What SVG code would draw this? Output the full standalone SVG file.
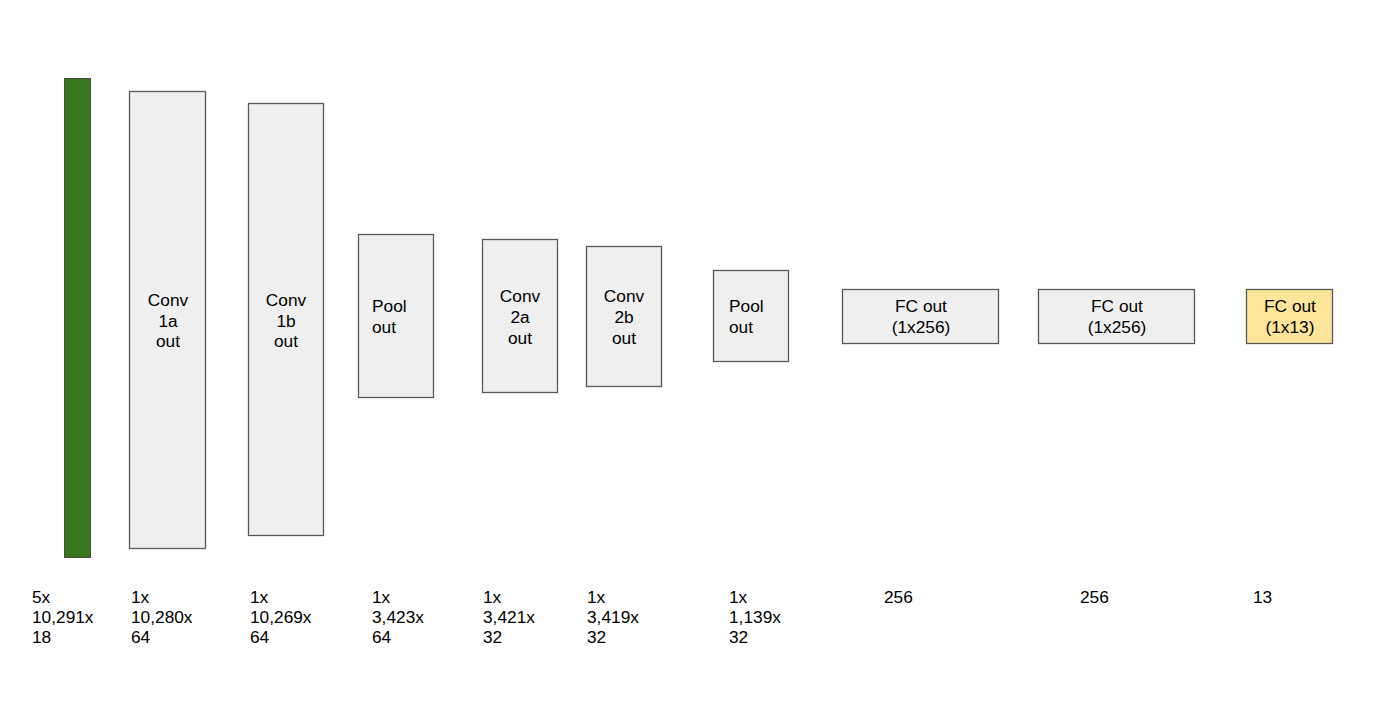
<svg xmlns="http://www.w3.org/2000/svg" width="1400" height="711" viewBox="0 0 1400 711">
<style>
.box{fill:#efefef;stroke:#595959;stroke-width:1.3}
.t{font-family:"Liberation Sans",Arial,sans-serif;font-size:17.3px;fill:#000}
.c{text-anchor:middle}
</style>
<rect width="1400" height="711" fill="#fff"/>
<g id="input"><rect x="64.5" y="78.5" width="26" height="479" fill="#38761d" stroke="#4a4a4a" stroke-width="1"/></g>
<g id="conv1a"><rect class="box" x="129.5" y="91.5" width="76" height="457"/>
<text class="t c" x="168" y="306">Conv</text><text class="t c" x="168" y="327">1a</text><text class="t c" x="168" y="347">out</text></g>
<g id="conv1b"><rect class="box" x="248.5" y="103.5" width="75" height="432"/>
<text class="t c" x="286" y="306">Conv</text><text class="t c" x="286" y="327">1b</text><text class="t c" x="286" y="347">out</text></g>
<g id="pool1"><rect class="box" x="358.5" y="234.5" width="75" height="163"/>
<text class="t" x="372" y="312">Pool</text><text class="t" x="372" y="333">out</text></g>
<g id="conv2a"><rect class="box" x="482.5" y="239.5" width="75" height="153"/>
<text class="t c" x="520" y="302">Conv</text><text class="t c" x="520" y="323">2a</text><text class="t c" x="520" y="344">out</text></g>
<g id="conv2b"><rect class="box" x="586.5" y="246.5" width="75" height="140"/>
<text class="t c" x="624" y="302">Conv</text><text class="t c" x="624" y="323">2b</text><text class="t c" x="624" y="344">out</text></g>
<g id="pool2"><rect class="box" x="713.5" y="270.5" width="75" height="91"/>
<text class="t" x="729" y="312">Pool</text><text class="t" x="729" y="333">out</text></g>
<g id="fc1"><rect class="box" x="842.5" y="289.5" width="156" height="54"/>
<text class="t c" x="921" y="312">FC out</text><text class="t c" x="921" y="333">(1x256)</text></g>
<g id="fc2"><rect class="box" x="1038.5" y="289.5" width="156" height="54"/>
<text class="t c" x="1117" y="312">FC out</text><text class="t c" x="1117" y="333">(1x256)</text></g>
<g id="fc3"><rect class="box" x="1246.5" y="289.5" width="86" height="54" style="fill:#ffe599"/>
<text class="t c" x="1290" y="312">FC out</text><text class="t c" x="1290" y="333">(1x13)</text></g>
<g id="connectors"></g>
<g id="dims">
<text class="t" x="32" y="603">5x</text><text class="t" x="32" y="623">10,291x</text><text class="t" x="32" y="643">18</text>
<text class="t" x="131" y="603">1x</text><text class="t" x="131" y="623">10,280x</text><text class="t" x="131" y="643">64</text>
<text class="t" x="250" y="603">1x</text><text class="t" x="250" y="623">10,269x</text><text class="t" x="250" y="643">64</text>
<text class="t" x="372" y="603">1x</text><text class="t" x="372" y="623">3,423x</text><text class="t" x="372" y="643">64</text>
<text class="t" x="483" y="603">1x</text><text class="t" x="483" y="623">3,421x</text><text class="t" x="483" y="643">32</text>
<text class="t" x="587" y="603">1x</text><text class="t" x="587" y="623">3,419x</text><text class="t" x="587" y="643">32</text>
<text class="t" x="729" y="603">1x</text><text class="t" x="729" y="623">1,139x</text><text class="t" x="729" y="643">32</text>
<text class="t" x="884" y="603">256</text>
<text class="t" x="1080" y="603">256</text>
<text class="t" x="1253" y="603">13</text>
</g>
</svg>
